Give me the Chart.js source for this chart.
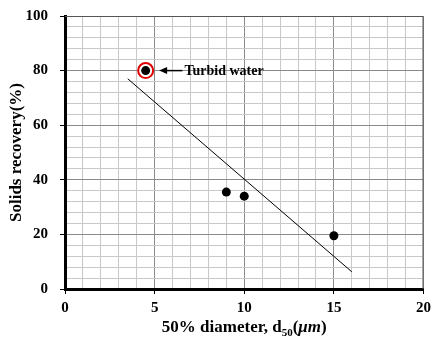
<!DOCTYPE html>
<html>
<head>
<meta charset="utf-8">
<script src="https://cdn.jsdelivr.net/npm/chart.js@4"></script>
<style>
  html, body { margin: 0; padding: 0; background: #fff; }
  #wrap { width: 433px; height: 340px; }
</style>
</head>
<body>
<div id="wrap"><canvas id="c" width="433" height="340"></canvas></div>
<script>
// ---- data ----
const pointX = [4.5, 9, 10, 15];
const pointY = [80, 35.5, 34, 19.5];
const highlightX = [4.5];
const highlightY = [80];
const trendX = [3.5, 16];
const trendY = [77, 6.3];
const xTickLabels = [0, 5, 10, 15, 20];
const yTickLabels = [0, 20, 40, 60, 80, 100];
const annotationText = 'Turbid water';
const yTitle = 'Solids recovery(%)';

const toXY = (xs, ys) => xs.map((x, i) => ({ x: x, y: ys[i] }));
const SERIF = '"Liberation Serif", "Times New Roman", serif';

const framePlugin = {
  id: 'frame',
  afterDraw(chart) {
    const { ctx, chartArea: a, scales } = chart;
    ctx.save();
    // thin top/right border
    ctx.strokeStyle = '#555';
    ctx.lineWidth = 1;
    ctx.beginPath();
    ctx.moveTo(a.left, a.top + 0.5);
    ctx.lineTo(a.right - 0.5, a.top + 0.5);
    ctx.lineTo(a.right - 0.5, a.bottom);
    ctx.stroke();

    // annotation arrow + text
    const ay = scales.y.getPixelForValue(highlightY[0]);
    const headX = scales.x.getPixelForValue(5.25);
    const tailX = scales.x.getPixelForValue(6.55);
    ctx.strokeStyle = '#000';
    ctx.fillStyle = '#000';
    ctx.lineWidth = 1.5;
    ctx.beginPath();
    ctx.moveTo(headX + 6, ay);
    ctx.lineTo(tailX, ay);
    ctx.stroke();
    ctx.beginPath();
    ctx.moveTo(headX, ay);
    ctx.lineTo(headX + 8, ay - 3.5);
    ctx.lineTo(headX + 8, ay + 3.5);
    ctx.closePath();
    ctx.fill();
    ctx.font = 'bold 14px ' + SERIF;
    ctx.textAlign = 'left';
    ctx.textBaseline = 'middle';
    ctx.fillText(annotationText, tailX + 2, ay + 1);

    // y title
    ctx.save();
    ctx.translate(17, (a.top + a.bottom) / 2);
    ctx.rotate(-Math.PI / 2);
    ctx.font = 'bold 17px ' + SERIF;
    ctx.textAlign = 'center';
    ctx.textBaseline = 'middle';
    ctx.fillText(yTitle, 0, 0);
    ctx.restore();

    // x title with subscript
    const parts = [
      { t: '50% diameter, d', f: 'bold 17px ' + SERIF, dy: 0 },
      { t: '50', f: 'bold 11px ' + SERIF, dy: 4 },
      { t: '(', f: 'bold 17px ' + SERIF, dy: 0 },
      { t: '\u03bcm', f: 'italic bold 17px ' + SERIF, dy: 0 },
      { t: ')', f: 'bold 17px ' + SERIF, dy: 0 }
    ];
    let total = 0;
    parts.forEach(p => { ctx.font = p.f; p.w = ctx.measureText(p.t).width; total += p.w; });
    let x = (a.left + a.right) / 2 - total / 2;
    const by = 332;
    ctx.textAlign = 'left';
    ctx.textBaseline = 'alphabetic';
    parts.forEach(p => { ctx.font = p.f; ctx.fillText(p.t, x, by + p.dy); x += p.w; });
    ctx.restore();
  }
};

new Chart(document.getElementById('c'), {
  type: 'scatter',
  data: {
    datasets: [
      {
        label: 'Data',
        data: toXY(pointX, pointY),
        pointRadius: 4.5,
        pointHoverRadius: 4.5,
        backgroundColor: '#000',
        borderColor: '#000',
        borderWidth: 0
      },
      {
        label: 'Turbid water',
        data: toXY(highlightX, highlightY),
        pointRadius: 7.5,
        pointHoverRadius: 7.5,
        backgroundColor: '#fff',
        borderColor: '#e00000',
        borderWidth: 2
      },
      {
        label: 'Trend',
        data: toXY(trendX, trendY),
        showLine: true,
        pointRadius: 0,
        borderColor: '#000',
        borderWidth: 1,
        fill: false
      }
    ]
  },
  options: {
    responsive: false,
    devicePixelRatio: 1,
    animation: false,
    events: [],
    layout: { padding: { left: 0, top: 16, right: 7, bottom: 0 } },
    plugins: { legend: { display: false }, tooltip: { enabled: false } },
    scales: {
      x: {
        type: 'linear',
        min: 0, max: 20,
        afterFit: s => { s.height = 51; s.paddingLeft = 0; s.paddingRight = 0; },
        ticks: {
          stepSize: 1,
          autoSkip: false,
          maxRotation: 0,
          padding: 5,
          color: '#000',
          font: { family: SERIF, size: 15, weight: 'bold' },
          callback: v => xTickLabels.includes(v) ? String(v) : ''
        },
        grid: {
          color: c => (c.tick && c.tick.value % 5 === 0) ? '#8a8a8a' : '#c8c8c8',
          tickColor: c => (c.tick && c.tick.value % 5 === 0) ? '#000' : 'rgba(0,0,0,0)',
          tickLength: 5,
          lineWidth: 1
        },
        border: { display: true, color: '#000', width: 3 }
      },
      y: {
        type: 'linear',
        min: 0, max: 100,
        afterFit: s => { s.width = 65; s.paddingTop = 0; s.paddingBottom = 0; },
        ticks: {
          stepSize: 4,
          autoSkip: false,
          padding: 12,
          color: '#000',
          font: { family: SERIF, size: 15, weight: 'bold' },
          callback: v => yTickLabels.includes(v) ? String(v) : ''
        },
        grid: {
          color: c => (c.tick && c.tick.value % 20 === 0) ? '#8a8a8a' : '#c8c8c8',
          tickColor: c => (c.tick && c.tick.value % 20 === 0) ? '#000' : 'rgba(0,0,0,0)',
          tickLength: 5,
          lineWidth: 1
        },
        border: { display: true, color: '#000', width: 3 }
      }
    }
  },
  plugins: [framePlugin]
});
</script>
</body>
</html>
